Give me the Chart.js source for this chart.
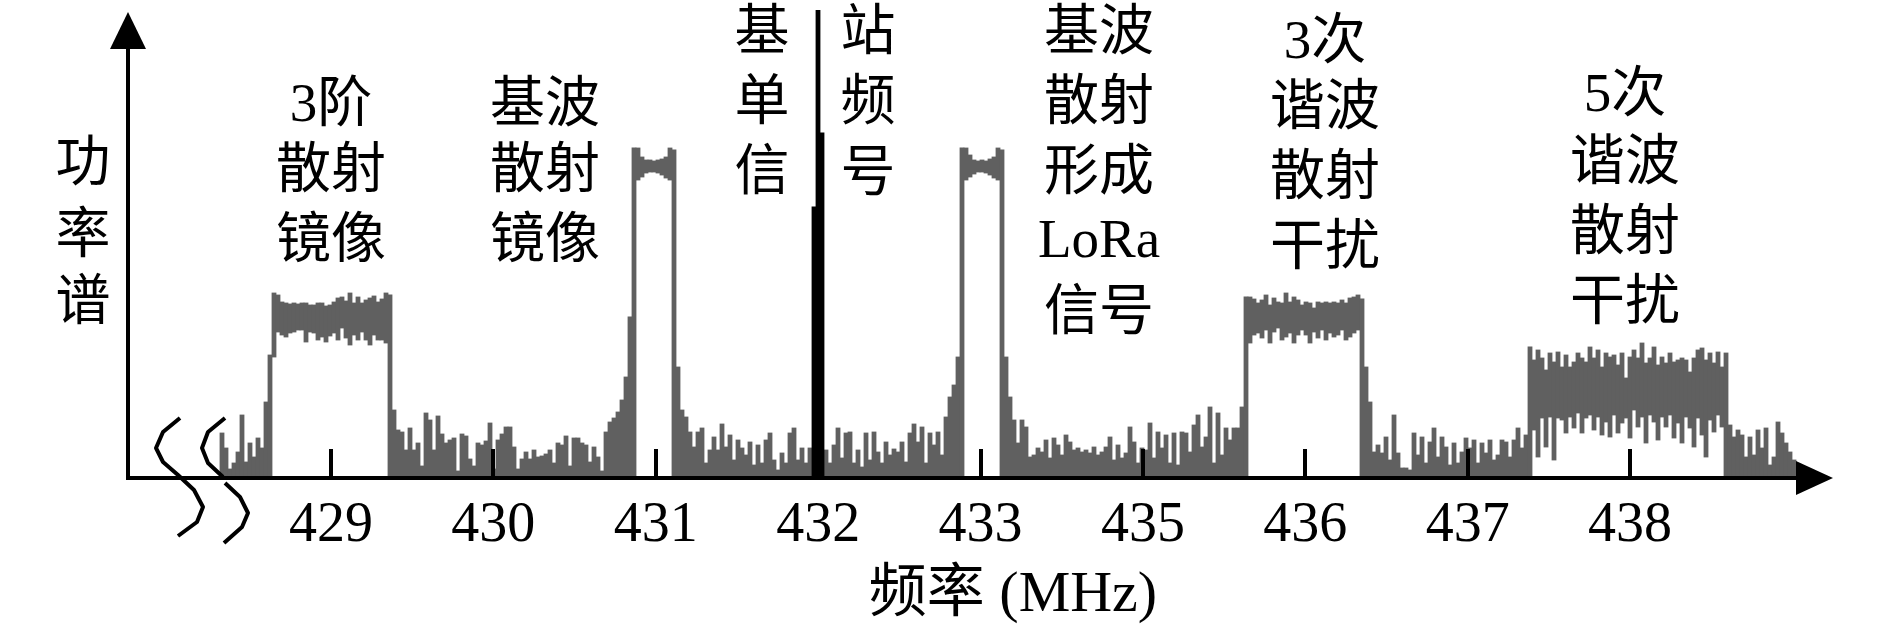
<!DOCTYPE html>
<html>
<head>
<meta charset="utf-8">
<script src="https://cdn.jsdelivr.net/npm/chart.js@4.4.1/dist/chart.umd.min.js"></script>
<style>
html,body{margin:0;padding:0;background:#fff;overflow:hidden}
canvas{display:block}
</style>
</head>
<body>
<canvas id="c" width="1890" height="638"></canvas>
<script>
// ---------- data ----------
const tickLabels = ['429','430','431','432','433','435','436','437','438'];

// spectrum bins: upper value of each bin (power, arbitrary units)
const powerMax = [
 44,29,8,14,25,62,15,34,20,39,29,75,122,184,182,175,174,173,174,173,
 174,174,172,172,174,174,171,172,175,179,180,176,184,174,180,174,177,179,181,175,
 178,184,182,67,47,45,27,49,27,34,11,64,57,27,61,43,34,37,39,6,
 43,41,18,11,34,32,36,54,8,37,43,50,50,30,8,18,25,18,27,20,
 21,23,27,14,34,32,41,11,39,39,34,32,15,30,20,6,45,55,59,65,
 77,100,160,329,329,320,317,317,316,317,318,320,329,327,110,67,60,45,30,45,
 49,14,27,40,27,53,30,42,17,37,29,22,35,12,32,14,37,44,17,7,
 24,14,44,49,17,29,14,29,20,20,20,27,14,32,49,19,44,45,14,27,
 10,44,17,45,25,14,35,22,28,25,35,15,44,53,35,50,14,44,32,45,
 22,60,80,92,120,329,329,322,317,316,317,316,318,320,329,327,120,80,57,34,
 57,50,20,22,29,25,37,19,39,32,22,42,35,27,29,25,27,24,30,22,
 25,30,40,17,32,19,24,50,35,14,29,27,54,19,45,29,42,14,44,12,
 45,44,25,52,62,30,40,70,14,64,22,49,37,49,49,70,180,180,178,174,
 177,182,172,179,175,174,184,175,180,177,172,175,174,169,175,174,175,174,175,174,
 177,174,179,180,182,178,110,75,25,32,24,40,17,62,24,9,9,7,44,22,
 40,14,35,49,20,40,30,12,34,14,25,39,29,37,14,34,24,37,17,22,
 37,35,20,37,49,29,42,130,117,127,119,107,124,115,125,110,122,110,115,124,
 119,115,130,119,127,110,124,120,122,112,124,99,120,127,119,134,114,119,130,112,
 120,114,124,115,117,119,117,105,119,127,129,117,124,114,125,110,124,52,40,47,
 42,20,40,22,47,29,49,12,20,55,44,34,25,17
];

// spectrum bins: lower value of each bin (0 = down to the axis)
const powerMin = [
 0,0,0,0,0,0,0,0,0,0,0,0,0,120,145,142,140,144,145,147,
 147,135,145,144,137,140,135,141,144,137,149,139,132,142,137,145,137,132,142,137,
 137,134,0,0,0,0,0,0,0,0,0,0,0,0,0,0,0,0,0,0,
 0,0,0,0,0,0,0,0,0,0,0,0,0,0,0,0,0,0,0,0,
 0,0,0,0,0,0,0,0,0,0,0,0,0,0,0,0,0,0,0,0,
 0,0,0,0,297,300,304,305,305,304,302,299,297,0,0,0,0,0,0,0,
 0,0,0,0,0,0,0,0,0,0,0,0,0,0,0,0,0,0,0,0,
 0,0,0,0,0,0,0,0,0,0,0,0,0,0,0,0,0,0,0,0,
 0,0,0,0,0,0,0,0,0,0,0,0,0,0,0,0,0,0,0,0,
 0,0,0,0,0,0,297,300,303,305,305,304,302,299,297,0,0,0,0,0,
 0,0,0,0,0,0,0,0,0,0,0,0,0,0,0,0,0,0,0,0,
 0,0,0,0,0,0,0,0,0,0,0,0,0,0,0,0,0,0,0,0,
 0,0,0,0,0,0,0,0,0,0,0,0,0,0,0,0,0,134,142,144,
 139,147,134,145,149,137,140,144,134,142,147,142,134,145,139,147,137,144,140,142,
 147,137,140,144,147,0,0,0,0,0,0,0,0,0,0,0,0,0,0,0,
 0,0,0,0,0,0,0,0,0,0,0,0,0,0,0,0,0,0,0,0,
 0,0,0,0,0,0,0,0,47,20,59,30,60,17,59,57,44,60,49,64,
 44,59,62,47,60,42,55,40,62,44,54,59,39,67,50,60,34,62,55,37,
 60,50,62,39,54,34,60,49,30,59,42,20,57,45,62,50,0,0,0,0,
 0,0,0,0,0,0,0,0,0,0,0,0,0,0
];

// base-station single-frequency signal: three bins starting at bin index 148
const baseStationPower = [270, 467, 344];
const baseStationFirstBin = 148;

const labelLines = [
  ['3阶','散射','镜像'],
  ['基波','散射','镜像'],
  ['基','单','信'],
  ['站','频','号'],
  ['基波','散射','形成','LoRa','信号'],
  ['3次','谐波','散射','干扰'],
  ['5次','谐波','散射','干扰']
];
const yTitleChars = ['功','率','谱'];
const xTitle = '频率 (MHz)';

if (powerMax.length !== powerMin.length) throw new Error('length mismatch ' + powerMax.length + ' ' + powerMin.length);

// ---------- axis sampling (tick slots: one slot per labelled tick) ----------
const firstBinSlot = -0.671286;
const binSlotWidth = 0.0246344;
const slotOf = i => firstBinSlot + i * binSlotWidth;

const spectrumData = powerMax.map((v, i) => ({ x: slotOf(i), y: [powerMin[i], v] }));
const baseData = baseStationPower.map((v, j) => ({ x: slotOf(baseStationFirstBin + j), y: [0, v] }));

const FONT = "'Liberation Serif', 'Noto Sans CJK SC'";

// ---------- decorations: axes, arrows, ticks, breaks, texts ----------
const decor = {
  id: 'decor',
  afterDatasetsDraw(chart) {
    const ctx = chart.ctx;
    const xs = chart.scales.x;
    const base = chart.chartArea.bottom;
    const left = chart.chartArea.left;
    ctx.save();
    ctx.strokeStyle = '#000';
    ctx.fillStyle = '#000';
    ctx.lineWidth = 4;
    ctx.lineCap = 'butt';
    // x axis
    ctx.beginPath(); ctx.moveTo(left - 2, base + 1); ctx.lineTo(1800, base + 1); ctx.stroke();
    // y axis
    ctx.beginPath(); ctx.moveTo(left, base + 3); ctx.lineTo(left, 45); ctx.stroke();
    // arrows
    ctx.beginPath(); ctx.moveTo(1833, base + 1); ctx.lineTo(1796, base - 16); ctx.lineTo(1796, base + 18); ctx.closePath(); ctx.fill();
    ctx.beginPath(); ctx.moveTo(left, 12); ctx.lineTo(left - 18, 49); ctx.lineTo(left + 18, 49); ctx.closePath(); ctx.fill();
    // tick marks (inside, upward)
    tickLabels.forEach((_, i) => {
      const x = Math.round(xs.getPixelForValue(i));
      ctx.beginPath(); ctx.moveTo(x, base); ctx.lineTo(x, base - 28); ctx.stroke();
    });
    // axis break marks
    const polys = [
      [[180,418],[163,432],[156,448],[163,462],[178,475],[194,490],[203,507],[197,522],[178,536]],
      [[225,418],[208,432],[202,448],[208,463],[223,477]],
      [[225,483],[240,497],[248,513],[242,527],[224,543]]
    ];
    ctx.lineJoin = 'round';
    polys.forEach(p => {
      ctx.beginPath();
      p.forEach(([x, y], k) => k ? ctx.lineTo(x, y) : ctx.moveTo(x, y));
      ctx.stroke();
    });
    // texts
    ctx.textAlign = 'center';
    ctx.textBaseline = 'middle';
    ctx.font = '55px ' + FONT;
    const anchors = [
      [331, [107,173,243]],
      [545, [107,173,243]],
      [762, [35,105,175]],
      [868, [35,105,176]],
      [1099, [35,105,175,243,315]],
      [1325, [44,110,180,250]],
      [1625, [97,165,235,305]]
    ];
    labelLines.forEach((lines, n) => {
      const [x, ys] = anchors[n];
      lines.forEach((t, k) => ctx.fillText(t, x, ys[k]));
    });
    const yTitleY = [166, 238, 305];
    yTitleChars.forEach((t, k) => ctx.fillText(t, 83, yTitleY[k]));
    ctx.font = '58px ' + FONT;
    ctx.fillText(xTitle, 1013, 596);
    ctx.restore();
  }
};

new Chart(document.getElementById('c'), {
  type: 'bar',
  data: {
    datasets: [
      { label: '基站单频信号', data: baseData, backgroundColor: '#000000', grouped: false,
        barPercentage: 1, categoryPercentage: 1, inflateAmount: 0.4, order: 0 },
      { label: '功率谱', data: spectrumData, backgroundColor: '#606060', grouped: false,
        barPercentage: 1, categoryPercentage: 1, inflateAmount: 0.4, order: 1 }
    ]
  },
  options: {
    responsive: false,
    animation: false,
    devicePixelRatio: 1,
    layout: { padding: { left: 128, right: 58, top: 10, bottom: 0 } },
    plugins: { legend: { display: false }, tooltip: { enabled: false }, title: { display: false } },
    scales: {
      x: {
        type: 'linear',
        min: -1.25019,
        max: 9.24403,
        offset: false,
        grid: { display: false, drawTicks: false },
        border: { display: false },
        ticks: {
          autoSkip: false,
          maxRotation: 0,
          padding: 16,
          color: '#000',
          font: { family: FONT, size: 56 },
          callback: v => tickLabels[v]
        },
        afterBuildTicks: s => { s.ticks = tickLabels.map((_, i) => ({ value: i })); },
        afterFit: s => { s.height = 161; }
      },
      y: { display: false, min: 0, max: 467 }
    }
  },
  plugins: [decor]
});
</script>
</body>
</html>
